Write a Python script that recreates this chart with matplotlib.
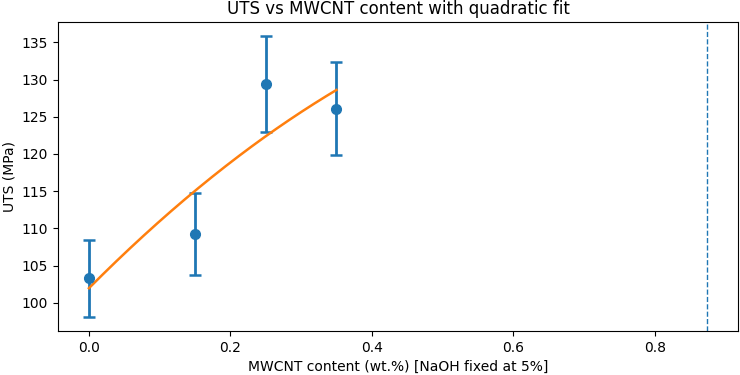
import numpy as np
import matplotlib
matplotlib.use("Agg")
import matplotlib.pyplot as plt

mwcnt = [0.0, 0.15, 0.25, 0.35]
uts_mean = [103.3, 109.2, 129.4, 126.1]
uts_std = [5.2, 5.5, 6.45, 6.3]
marker_x = 0.874

# quadratic fit through the means
coef = np.polyfit(mwcnt, uts_mean, 2)
x_fit = np.linspace(min(mwcnt), max(mwcnt), 200)
y_fit = np.polyval(coef, x_fit)

fig = plt.figure(figsize=(7.4, 3.75), dpi=100)
ax = fig.add_axes([58 / 740, 1 - 331 / 375, 680 / 740, 309 / 375])
ax.errorbar(mwcnt, uts_mean, yerr=uts_std, fmt="o", ms=7, capsize=4,
            elinewidth=2, capthick=1.8, color="C0")
ax.plot(x_fit, y_fit, color="C1", lw=1.8)
ax.axvline(marker_x, linestyle="--", linewidth=1, color="C0")
ax.set_title("UTS vs MWCNT content with quadratic fit")
ax.set_xlabel("MWCNT content (wt.%) [NaOH fixed at 5%]")
ax.set_ylabel("UTS (MPa)")
fig.savefig("out.png", dpi=100)
